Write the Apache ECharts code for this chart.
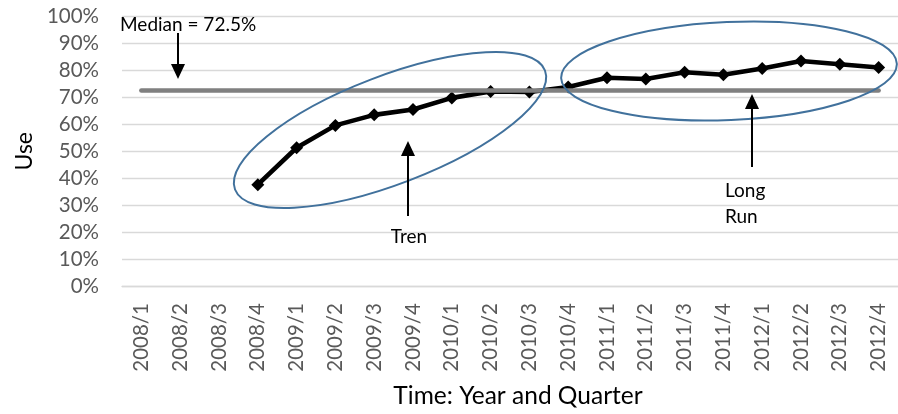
<!DOCTYPE html>
<html>
<head>
<meta charset="utf-8">
<script src="https://cdn.jsdelivr.net/npm/echarts@6/dist/echarts.min.js"></script>
<style>
  html, body { margin: 0; padding: 0; background: #fff; }
  #chart { width: 898px; height: 414px; }
</style>
</head>
<body>
<div id="chart"></div>
<script>
// Quarterly periods on the x axis
const categories = [
  '2008/1', '2008/2', '2008/3', '2008/4',
  '2009/1', '2009/2', '2009/3', '2009/4',
  '2010/1', '2010/2', '2010/3', '2010/4',
  '2011/1', '2011/2', '2011/3', '2011/4',
  '2012/1', '2012/2', '2012/3', '2012/4'
];

// Share of use per quarter, in percent (no data before 2008/4)
const useValues = [
  null, null, null, 37.6,
  51.3, 59.6, 63.5, 65.5,
  69.8, 72.2, 72.0, 73.8,
  77.3, 76.8, 79.3, 78.4,
  80.7, 83.5, 82.3, 81.1
];

// Median of the series, drawn as a horizontal reference line
const medianValue = 72.5;

// Y axis tick values
const yTicks = [0, 10, 20, 30, 40, 50, 60, 70, 80, 90, 100];

const FONT = 'Lato, "Open Sans", sans-serif';
const chart = echarts.init(document.getElementById('chart'), null, { renderer: 'canvas' });

const option = {
  animation: false,
  backgroundColor: '#ffffff',
  textStyle: { fontFamily: FONT },
  grid: { left: 122, top: 16.5, width: 784, height: 274.2 },
  xAxis: {
    type: 'category',
    data: categories,
    boundaryGap: true,
    axisLine: { show: true, lineStyle: { color: '#d9d9d9', width: 1.3 } },
    axisTick: { show: false },
    axisLabel: {
      rotate: 90, interval: 0, margin: 17,
      color: '#595959', fontSize: 20.5, fontFamily: FONT
    },
    name: 'Time: Year and Quarter',
    nameLocation: 'middle',
    nameGap: 98,
    nameTextStyle: { color: '#000', fontSize: 24.5, fontFamily: FONT, padding: [0, 0, 0, 16] }
  },
  yAxis: {
    type: 'value',
    min: yTicks[0],
    max: yTicks[yTicks.length - 1],
    interval: yTicks[1] - yTicks[0],
    axisLine: { show: false },
    axisTick: { show: false },
    axisLabel: {
      formatter: '{value}%', margin: 23,
      color: '#595959', fontSize: 20.5, fontFamily: FONT
    },
    splitLine: { lineStyle: { color: '#d9d9d9', width: 1.3 } },
    name: 'Use',
    nameLocation: 'middle',
    nameGap: 86,
    nameRotate: 90,
    nameTextStyle: { color: '#000', fontSize: 23, fontFamily: FONT }
  },
  series: [
    {
      // carrier for the median reference line, drawn beneath the data line
      name: 'Median',
      type: 'line',
      data: [],
      z: 1,
      silent: true,
      markLine: {
        silent: true,
        symbol: ['none', 'none'],
        label: { show: false },
        lineStyle: { color: '#808080', width: 4.6, type: 'solid', cap: 'round' },
        data: [[
          { coord: [categories[0], medianValue] },
          { coord: [categories[categories.length - 1], medianValue] }
        ]]
      }
    },
    {
      name: 'Use',
      type: 'line',
      data: useValues,
      z: 3,
      symbol: 'diamond',
      symbolSize: 13,
      showSymbol: true,
      connectNulls: false,
      itemStyle: { color: '#000' },
      lineStyle: { color: '#000', width: 4.6 }
    }
  ]
};

chart.setOption(option);

// Annotations: ellipses around the two phases, arrows and captions
const ELLIPSE_COLOR = '#41719c';
function arrowUp(x, yTail, yTip) {
  return [
    { type: 'line', z: 20, shape: { x1: x, y1: yTail, x2: x, y2: yTip + 12 },
      style: { stroke: '#000', lineWidth: 2 } },
    { type: 'polygon', z: 20, shape: { points: [[x - 7, yTip + 15], [x + 7, yTip + 15], [x, yTip]] },
      style: { fill: '#000' } }
  ];
}
function arrowDown(x, yTail, yTip) {
  return [
    { type: 'line', z: 20, shape: { x1: x, y1: yTail, x2: x, y2: yTip - 12 },
      style: { stroke: '#000', lineWidth: 2 } },
    { type: 'polygon', z: 20, shape: { points: [[x - 7, yTip - 15], [x + 7, yTip - 15], [x, yTip]] },
      style: { fill: '#000' } }
  ];
}
function caption(text, x, y, align) {
  return {
    type: 'text', z: 20, x: x, y: y,
    style: {
      text: text, fill: '#000', font: '19px ' + FONT,
      align: align, verticalAlign: 'middle',
      textAlign: align, textVerticalAlign: 'middle',
      lineHeight: 26
    }
  };
}

chart.setOption({
  graphic: [
    {
      type: 'ellipse', z: 15, x: 390, y: 130, rotation: 21 * Math.PI / 180,
      shape: { cx: 0, cy: 0, rx: 166, ry: 54 },
      style: { fill: 'none', stroke: ELLIPSE_COLOR, lineWidth: 2 }
    },
    {
      type: 'ellipse', z: 15, x: 729, y: 71, rotation: 2.5 * Math.PI / 180,
      shape: { cx: 0, cy: 0, rx: 168, ry: 49 },
      style: { fill: 'none', stroke: ELLIPSE_COLOR, lineWidth: 2 }
    },
    caption('Median = 72.5%', 120, 25, 'left'),
    ...arrowDown(178, 33, 79),
    ...arrowUp(408, 216, 141),
    caption('Tren', 409, 237, 'center'),
    ...arrowUp(752, 167, 94),
    caption('Long\nRun', 725, 204, 'left')
  ]
});
</script>
</body>
</html>
